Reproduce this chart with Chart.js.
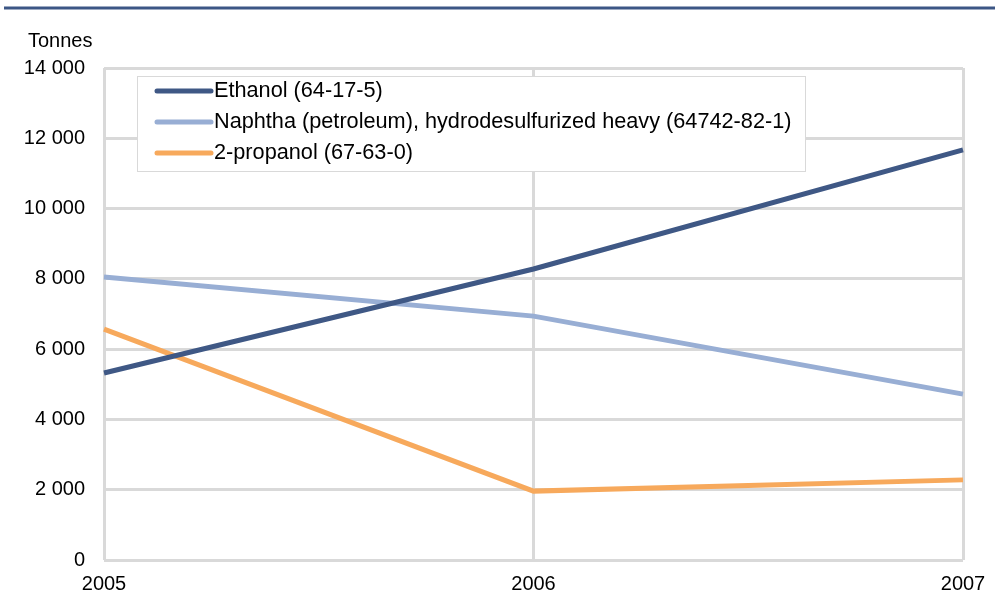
<!DOCTYPE html>
<html>
<head>
<meta charset="utf-8">
<script src="https://cdn.jsdelivr.net/npm/chart.js@4.4.0/dist/chart.umd.min.js"></script>
<style>
  html, body { margin: 0; padding: 0; background: #fff; }
  #wrap { width: 995px; height: 616px; position: relative; }
</style>
</head>
<body>
<div id="wrap"><canvas id="chart" width="995" height="616"></canvas></div>
<script>
// data
var years = ['2005', '2006', '2007'];
var ethanol = [5320, 8280, 11670];
var naphtha = [8050, 6940, 4720];
var propanol = [6570, 1960, 2280];
var seriesNames = [
    'Ethanol (64-17-5)',
    'Naphtha (petroleum), hydrodesulfurized heavy (64742-82-1)',
    '2-propanol (67-63-0)'
];
var yTicks = [0, 2000, 4000, 6000, 8000, 10000, 12000, 14000];

var FONT = '"Liberation Sans", Arial, sans-serif';
var gridColor = '#d9d9d9';

function fmt(v) {
    return String(v).replace(/\B(?=(\d{3})+(?!\d))/g, ' ');
}

// top rule, unit label and the boxed legend inside the plot
var decorPlugin = {
    id: 'decor',
    beforeDraw: function (chart) {
        var ctx = chart.ctx;
        ctx.save();
        ctx.fillStyle = '#fff';
        ctx.fillRect(0, 0, chart.width, chart.height);
        ctx.strokeStyle = '#3c5685';
        ctx.lineWidth = 3;
        ctx.beginPath();
        ctx.moveTo(4, 8);
        ctx.lineTo(995, 8);
        ctx.stroke();
        ctx.fillStyle = '#000';
        ctx.font = '20px ' + FONT;
        ctx.textBaseline = 'middle';
        ctx.textAlign = 'left';
        ctx.fillText('Tonnes', 28, 41);
        ctx.restore();
    },
    afterDraw: function (chart) {
        var ctx = chart.ctx;
        var x0 = 137, y0 = 76, w = 668, h = 95;
        ctx.save();
        ctx.fillStyle = '#fff';
        ctx.fillRect(x0, y0, w, h);
        ctx.strokeStyle = '#d9d9d9';
        ctx.lineWidth = 1;
        ctx.strokeRect(x0 + 0.5, y0 + 0.5, w, h);
        ctx.font = '21.7px ' + FONT;
        ctx.textBaseline = 'middle';
        ctx.textAlign = 'left';
        chart.data.datasets.forEach(function (ds, i) {
            var y = 91 + i * 31;
            ctx.strokeStyle = ds.borderColor;
            ctx.lineWidth = 5;
            ctx.lineCap = 'round';
            ctx.beginPath();
            ctx.moveTo(157, y);
            ctx.lineTo(211, y);
            ctx.stroke();
            ctx.fillStyle = '#000';
            ctx.fillText(ds.label, 214, y);
        });
        ctx.restore();
    }
};

var ctx = document.getElementById('chart').getContext('2d');

var chart = new Chart(ctx, {
    type: 'line',
    data: {
        labels: years,
        datasets: [
            { label: seriesNames[0], data: ethanol, borderColor: '#3f5885' },
            { label: seriesNames[1], data: naphtha, borderColor: '#98aed4' },
            { label: seriesNames[2], data: propanol, borderColor: '#f7a95c' }
        ].map(function (d) {
            d.borderWidth = 5;
            d.pointRadius = 0;
            d.tension = 0;
            d.fill = false;
            return d;
        })
    },
    options: {
        responsive: false,
        animation: false,
        devicePixelRatio: 1,
        layout: { padding: { left: 0, right: 32, top: 68, bottom: 0 } },
        plugins: {
            legend: { display: false },
            tooltip: { enabled: false }
        },
        scales: {
            x: {
                type: 'category',
                offset: false,
                grid: { color: gridColor, lineWidth: 3, drawTicks: false },
                border: { display: false },
                ticks: {
                    color: '#000',
                    font: { family: FONT, size: 20 },
                    padding: 12,
                    maxRotation: 0,
                    autoSkip: false
                },
                afterFit: function (scale) {
                    scale.height = 56;
                    scale.paddingLeft = 0;
                    scale.paddingRight = 0;
                }
            },
            y: {
                min: 0,
                max: 14000,
                afterBuildTicks: function (scale) {
                    scale.ticks = yTicks.map(function (v) { return { value: v }; });
                },
                grid: { color: gridColor, lineWidth: 3, drawTicks: false },
                border: { display: false },
                ticks: {
                    color: '#000',
                    font: { family: FONT, size: 20 },
                    padding: 19,
                    callback: function (v) { return fmt(v); }
                },
                afterFit: function (scale) { scale.width = 104; }
            }
        }
    },
    plugins: [decorPlugin]
});
</script>
</body>
</html>
